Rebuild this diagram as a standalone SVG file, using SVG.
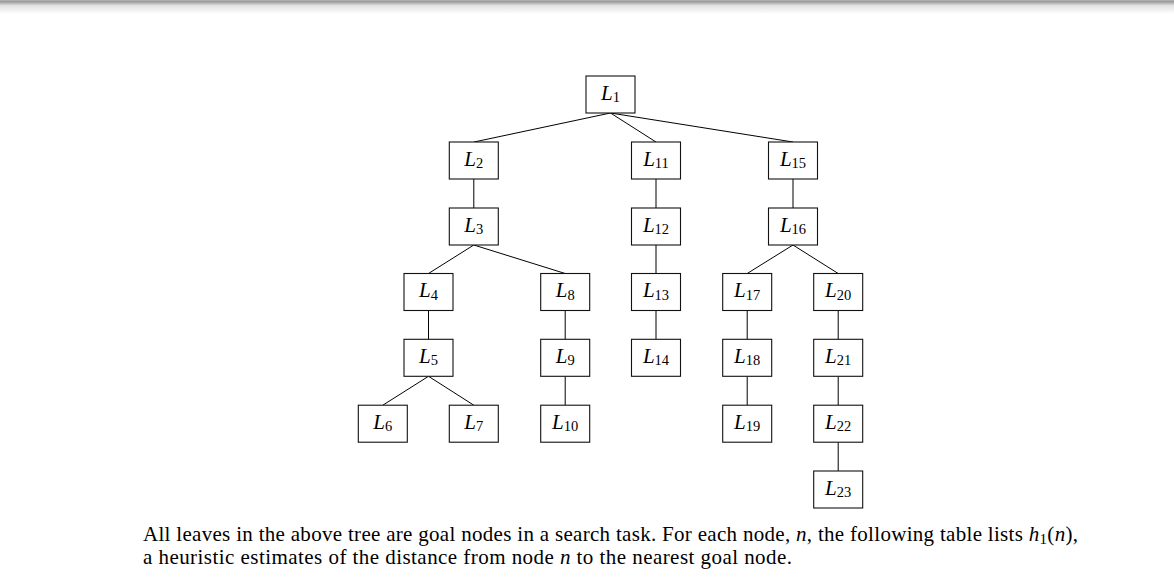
<svg xmlns="http://www.w3.org/2000/svg" width="1174" height="580" viewBox="0 0 1174 580">
<defs>
<linearGradient id="topShade" x1="0" y1="0" x2="0" y2="1">
<stop offset="0" stop-color="#b4b4b4"/>
<stop offset="0.12" stop-color="#9c9c9c"/>
<stop offset="0.4" stop-color="#e2e2e2"/>
<stop offset="1" stop-color="#ffffff"/>
</linearGradient>
</defs>
<style>
.box{fill:#fff;stroke:#111;stroke-width:1.1}
.lbl{font-family:"Liberation Serif","DejaVu Serif",serif;text-anchor:middle;fill:#000}
.L{font-style:italic;font-size:21px}
.s{font-size:14.5px}
.edge{stroke:#000;stroke-width:1;fill:none}
.cap{font-family:"Liberation Serif","DejaVu Serif",serif;font-size:21px;fill:#000}
.m{font-style:italic}
</style>
<rect x="0" y="0" width="1174" height="580" fill="#fff"/>
<rect x="0" y="0" width="1174" height="14" fill="url(#topShade)"/>

<g id="connectors">
<line class="edge" x1="610.5" y1="113" x2="474" y2="142"/>
<line class="edge" x1="610.5" y1="113" x2="656" y2="142"/>
<line class="edge" x1="610.5" y1="113" x2="793" y2="142"/>
<line class="edge" x1="473.8" y1="179" x2="473.8" y2="208"/>
<line class="edge" x1="473.8" y1="245" x2="428.5" y2="273.5"/>
<line class="edge" x1="473.8" y1="245" x2="565.2" y2="273.5"/>
<line class="edge" x1="428.5" y1="310.5" x2="428.5" y2="339.3"/>
<line class="edge" x1="428.5" y1="376.3" x2="382.8" y2="405.2"/>
<line class="edge" x1="428.5" y1="376.3" x2="473.8" y2="405.2"/>
<line class="edge" x1="565.2" y1="310.5" x2="565.2" y2="339.3"/>
<line class="edge" x1="565.2" y1="376.3" x2="565.2" y2="405.2"/>
<line class="edge" x1="656" y1="179" x2="656" y2="208"/>
<line class="edge" x1="656" y1="245" x2="656" y2="273.5"/>
<line class="edge" x1="656" y1="310.5" x2="656" y2="339.3"/>
<line class="edge" x1="793" y1="179" x2="793" y2="208"/>
<line class="edge" x1="793" y1="245" x2="747.2" y2="273.5"/>
<line class="edge" x1="793" y1="245" x2="838.2" y2="273.5"/>
<line class="edge" x1="747.2" y1="310.5" x2="747.2" y2="339.3"/>
<line class="edge" x1="747.2" y1="376.3" x2="747.2" y2="405.2"/>
<line class="edge" x1="838.2" y1="310.5" x2="838.2" y2="339.3"/>
<line class="edge" x1="838.2" y1="376.3" x2="838.2" y2="405.2"/>
<line class="edge" x1="838.2" y1="442.2" x2="838.2" y2="471"/>
</g>

<g id="L1"><rect class="box" x="586" y="76" width="49" height="37"/><text class="lbl" x="610.5" y="99.5"><tspan class="L">L</tspan><tspan class="s" dy="2.5">1</tspan></text></g>
<g id="L2"><rect class="box" x="449.3" y="142" width="49" height="37"/><text class="lbl" x="473.8" y="165.5"><tspan class="L">L</tspan><tspan class="s" dy="2.5">2</tspan></text></g>
<g id="L11"><rect class="box" x="631.5" y="142" width="49" height="37"/><text class="lbl" x="656" y="165.5"><tspan class="L">L</tspan><tspan class="s" dy="2.5">11</tspan></text></g>
<g id="L15"><rect class="box" x="768.5" y="142" width="49" height="37"/><text class="lbl" x="793" y="165.5"><tspan class="L">L</tspan><tspan class="s" dy="2.5">15</tspan></text></g>
<g id="L3"><rect class="box" x="449.3" y="208" width="49" height="37"/><text class="lbl" x="473.8" y="231.5"><tspan class="L">L</tspan><tspan class="s" dy="2.5">3</tspan></text></g>
<g id="L12"><rect class="box" x="631.5" y="208" width="49" height="37"/><text class="lbl" x="656" y="231.5"><tspan class="L">L</tspan><tspan class="s" dy="2.5">12</tspan></text></g>
<g id="L16"><rect class="box" x="768.5" y="208" width="49" height="37"/><text class="lbl" x="793" y="231.5"><tspan class="L">L</tspan><tspan class="s" dy="2.5">16</tspan></text></g>
<g id="L4"><rect class="box" x="404" y="273.5" width="49" height="37"/><text class="lbl" x="428.5" y="297"><tspan class="L">L</tspan><tspan class="s" dy="2.5">4</tspan></text></g>
<g id="L8"><rect class="box" x="540.7" y="273.5" width="49" height="37"/><text class="lbl" x="565.2" y="297"><tspan class="L">L</tspan><tspan class="s" dy="2.5">8</tspan></text></g>
<g id="L13"><rect class="box" x="631.5" y="273.5" width="49" height="37"/><text class="lbl" x="656" y="297"><tspan class="L">L</tspan><tspan class="s" dy="2.5">13</tspan></text></g>
<g id="L17"><rect class="box" x="722.7" y="273.5" width="49" height="37"/><text class="lbl" x="747.2" y="297"><tspan class="L">L</tspan><tspan class="s" dy="2.5">17</tspan></text></g>
<g id="L20"><rect class="box" x="813.7" y="273.5" width="49" height="37"/><text class="lbl" x="838.2" y="297"><tspan class="L">L</tspan><tspan class="s" dy="2.5">20</tspan></text></g>
<g id="L5"><rect class="box" x="404" y="339.3" width="49" height="37"/><text class="lbl" x="428.5" y="362.8"><tspan class="L">L</tspan><tspan class="s" dy="2.5">5</tspan></text></g>
<g id="L9"><rect class="box" x="540.7" y="339.3" width="49" height="37"/><text class="lbl" x="565.2" y="362.8"><tspan class="L">L</tspan><tspan class="s" dy="2.5">9</tspan></text></g>
<g id="L14"><rect class="box" x="631.5" y="339.3" width="49" height="37"/><text class="lbl" x="656" y="362.8"><tspan class="L">L</tspan><tspan class="s" dy="2.5">14</tspan></text></g>
<g id="L18"><rect class="box" x="722.7" y="339.3" width="49" height="37"/><text class="lbl" x="747.2" y="362.8"><tspan class="L">L</tspan><tspan class="s" dy="2.5">18</tspan></text></g>
<g id="L21"><rect class="box" x="813.7" y="339.3" width="49" height="37"/><text class="lbl" x="838.2" y="362.8"><tspan class="L">L</tspan><tspan class="s" dy="2.5">21</tspan></text></g>
<g id="L6"><rect class="box" x="358.3" y="405.2" width="49" height="37"/><text class="lbl" x="382.8" y="428.7"><tspan class="L">L</tspan><tspan class="s" dy="2.5">6</tspan></text></g>
<g id="L7"><rect class="box" x="449.3" y="405.2" width="49" height="37"/><text class="lbl" x="473.8" y="428.7"><tspan class="L">L</tspan><tspan class="s" dy="2.5">7</tspan></text></g>
<g id="L10"><rect class="box" x="540.7" y="405.2" width="49" height="37"/><text class="lbl" x="565.2" y="428.7"><tspan class="L">L</tspan><tspan class="s" dy="2.5">10</tspan></text></g>
<g id="L19"><rect class="box" x="722.7" y="405.2" width="49" height="37"/><text class="lbl" x="747.2" y="428.7"><tspan class="L">L</tspan><tspan class="s" dy="2.5">19</tspan></text></g>
<g id="L22"><rect class="box" x="813.7" y="405.2" width="49" height="37"/><text class="lbl" x="838.2" y="428.7"><tspan class="L">L</tspan><tspan class="s" dy="2.5">22</tspan></text></g>
<g id="L23"><rect class="box" x="813.7" y="471" width="49" height="37"/><text class="lbl" x="838.2" y="494.5"><tspan class="L">L</tspan><tspan class="s" dy="2.5">23</tspan></text></g>

<g id="caption">
<text class="cap" x="143" y="541" textLength="935" lengthAdjust="spacing">All leaves in the above tree are goal nodes in a search task. For each node, <tspan class="m">n</tspan>, the following table lists <tspan class="m">h</tspan><tspan font-size="15" dy="2.5">1</tspan><tspan dy="-2.5">(</tspan><tspan class="m">n</tspan>),</text>
<text class="cap" x="143" y="564" textLength="649" lengthAdjust="spacing">a heuristic estimates of the distance from node <tspan class="m">n</tspan> to the nearest goal node.</text>
</g>
</svg>
